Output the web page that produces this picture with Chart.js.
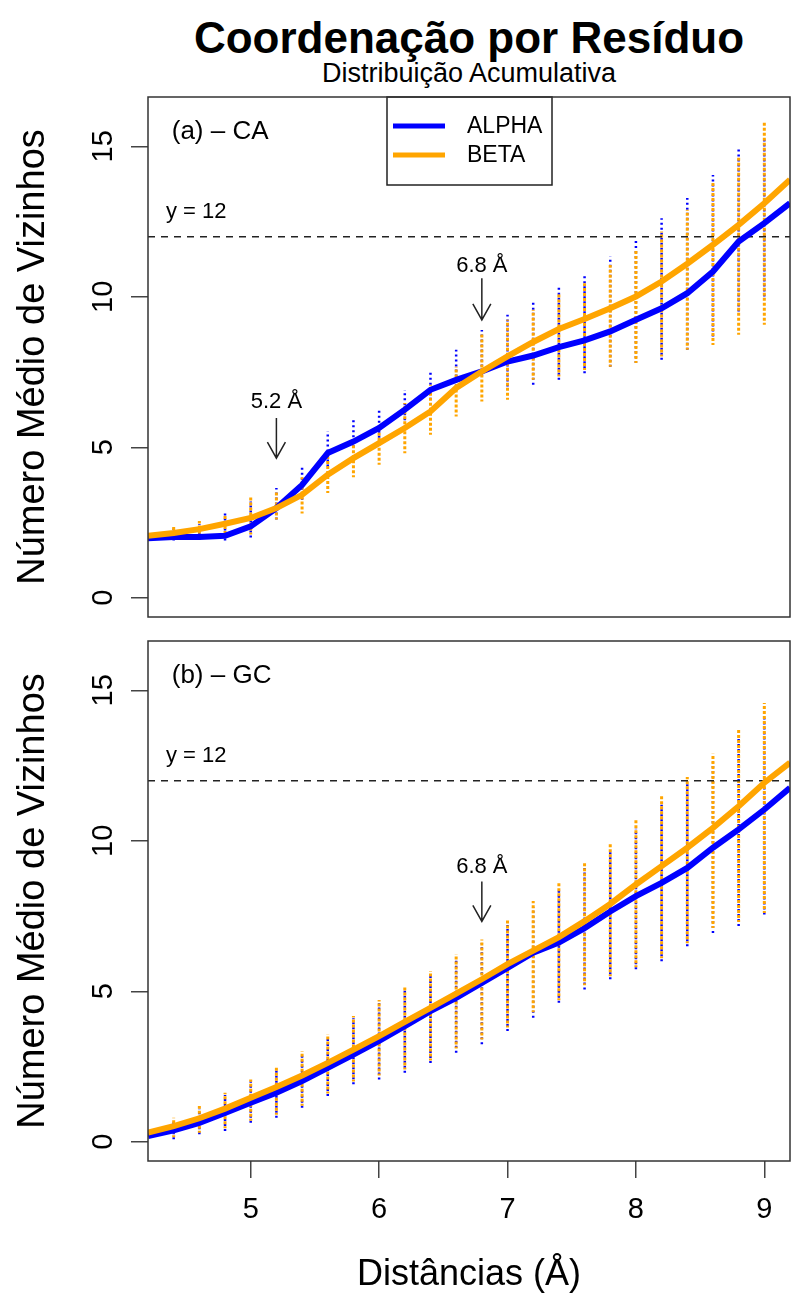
<!DOCTYPE html>
<html>
<head>
<meta charset="utf-8">
<script src="https://cdn.jsdelivr.net/npm/chart.js@4.4.0/dist/chart.umd.min.js"></script>
<style>
body { margin:0; background:#fff; width:791px; height:1298px; position:relative; overflow:hidden; font-family:"Liberation Sans", Arial, sans-serif; }
#title { position:absolute; left:148px; width:642px; top:16px; text-align:center; font-weight:bold; font-size:44px; line-height:44px; }
#subtitle { position:absolute; left:148px; width:642px; top:60px; text-align:center; font-size:27px; line-height:27px; }
canvas { position:absolute; left:0; }
</style>
</head>
<body>
<div id="title">Coordenação por Resíduo</div>
<div id="subtitle">Distribuição Acumulativa</div>
<canvas id="caChart" width="791" height="560" style="top:80px"></canvas>
<canvas id="gcChart" width="791" height="658" style="top:640px"></canvas>
<script>
// distances where the residues were sampled
var distances = [4.4, 4.6, 4.8, 5.0, 5.2, 5.4, 5.6, 5.8, 6.0, 6.2, 6.4, 6.6, 6.8, 7.0, 7.2, 7.4, 7.6, 7.8, 8.0, 8.2, 8.4, 8.6, 8.8, 9.0];
// mean curves run edge to edge
var lineDistances = [4.2, 4.4, 4.6, 4.8, 5.0, 5.2, 5.4, 5.6, 5.8, 6.0, 6.2, 6.4, 6.6, 6.8, 7.0, 7.2, 7.4, 7.6, 7.8, 8.0, 8.2, 8.4, 8.6, 8.8, 9.0, 9.2];

// (a) CA
var caAlphaMean = [1.98, 2.02, 2.02, 2.06, 2.37, 2.98, 3.75, 4.81, 5.19, 5.64, 6.25, 6.91, 7.24, 7.52, 7.85, 8.05, 8.33, 8.55, 8.85, 9.24, 9.62, 10.12, 10.84, 11.84, 12.45, 13.11];
var caBetaMean  = [2.06, 2.15, 2.28, 2.46, 2.65, 2.98, 3.42, 4.09, 4.64, 5.14, 5.64, 6.19, 6.97, 7.52, 8.02, 8.50, 8.93, 9.26, 9.62, 10.01, 10.51, 11.10, 11.73, 12.39, 13.11, 13.89];
var caAlphaMin = [1.90, 1.93, 1.90, 2.00, 2.60, 3.26, 4.36, 5.00, 5.15, 5.90, 6.58, 7.02, 7.35, 7.02, 7.08, 7.24, 7.46, 7.68, 7.80, 7.91, 8.24, 8.68, 9.51, 10.01];
var caAlphaMax = [2.30, 2.45, 2.90, 3.20, 3.65, 4.40, 5.53, 5.98, 6.25, 6.90, 7.52, 8.24, 8.90, 9.40, 9.90, 10.34, 10.70, 11.34, 11.89, 12.61, 13.28, 14.05, 14.94, 15.33];
var caBetaMin  = [1.95, 2.00, 2.15, 2.10, 2.60, 2.80, 3.48, 4.00, 4.42, 4.80, 5.42, 6.02, 6.52, 6.58, 7.24, 7.35, 7.57, 7.68, 7.80, 8.02, 8.24, 8.40, 8.74, 9.07];
var caBetaMax  = [2.40, 2.55, 2.75, 3.37, 3.50, 4.00, 4.69, 5.25, 5.69, 6.47, 7.08, 7.68, 8.80, 9.24, 9.57, 10.12, 10.45, 11.06, 11.58, 12.17, 12.89, 13.78, 14.66, 15.79];

// (b) GC
var gcAlphaMean = [0.19, 0.38, 0.63, 0.96, 1.30, 1.63, 2.02, 2.46, 2.90, 3.35, 3.84, 4.34, 4.78, 5.28, 5.78, 6.28, 6.62, 7.10, 7.65, 8.16, 8.60, 9.10, 9.77, 10.38, 11.04, 11.76];
var gcBetaMean  = [0.30, 0.52, 0.78, 1.10, 1.46, 1.82, 2.20, 2.62, 3.06, 3.51, 3.98, 4.45, 4.92, 5.40, 5.90, 6.35, 6.80, 7.33, 7.90, 8.55, 9.16, 9.77, 10.43, 11.15, 11.93, 12.60];
var gcAlphaMin = [0.08, 0.25, 0.36, 0.63, 0.80, 1.13, 1.52, 1.91, 2.07, 2.29, 2.62, 2.96, 3.24, 3.68, 4.12, 4.62, 5.06, 5.40, 5.73, 6.00, 6.50, 6.94, 7.17, 7.55];
var gcAlphaMax = [0.75, 1.10, 1.55, 2.00, 2.45, 2.95, 3.50, 4.10, 4.60, 5.10, 5.60, 6.10, 6.60, 7.20, 7.80, 8.40, 9.10, 9.70, 10.40, 11.20, 11.90, 12.60, 13.40, 14.09];
var gcBetaMin  = [0.15, 0.30, 0.45, 0.70, 0.90, 1.20, 1.60, 2.00, 2.20, 2.40, 2.70, 3.10, 3.40, 3.80, 4.30, 4.70, 5.20, 5.50, 5.80, 6.10, 6.60, 7.10, 7.30, 7.60];
var gcBetaMax  = [0.80, 1.19, 1.63, 2.07, 2.51, 3.01, 3.57, 4.18, 4.71, 5.17, 5.67, 6.23, 6.72, 7.35, 8.00, 8.63, 9.30, 9.93, 10.71, 11.49, 12.12, 12.89, 13.70, 14.58];

var seriesNames = ["ALPHA", "BETA"];
var seriesColors = ["#0000ff", "#ffa500"];
var yTicks = [0, 5, 10, 15];
var xTicks = [5, 6, 7, 8, 9];
var refLevel = 12;

var FONT = '"Liberation Sans", Arial, sans-serif';
Chart.defaults.font.family = FONT;
Chart.defaults.color = "#000";

function toPoints(xs, ys) {
  return xs.map(function (x, i) { return {x: x, y: ys[i]}; });
}

// one vertical strip of dots per distance, separated by gaps
function toStrips(xs, lo, hi) {
  var out = [];
  xs.forEach(function (x, i) {
    out.push({x: x, y: lo[i]});
    out.push({x: x, y: hi[i]});
    out.push({x: x, y: null});
  });
  return out;
}

var panelPlugin = {
  id: "panelPlugin",
  afterDatasetsDraw: function (chart, args, opts) {
    var ctx = chart.ctx, xs = chart.scales.x, ys = chart.scales.y, a = chart.chartArea;
    ctx.save();
    ctx.fillStyle = "#000";
    ctx.strokeStyle = "#222";
    // panel label
    ctx.font = "26px " + FONT;
    ctx.textAlign = "left";
    ctx.textBaseline = "alphabetic";
    ctx.fillText(opts.label, xs.getPixelForValue(4.385), ys.getPixelForValue(15.25));
    ctx.font = "22px " + FONT;
    ctx.fillText("y = " + refLevel, xs.getPixelForValue(4.34), ys.getPixelForValue(12.62));
    // arrows
    opts.arrows.forEach(function (ar) {
      var px = xs.getPixelForValue(ar.x);
      var y0 = ys.getPixelForValue(ar.from), y1 = ys.getPixelForValue(ar.to);
      ctx.font = "22px " + FONT;
      ctx.textAlign = "center";
      ctx.fillText(ar.text, px, ys.getPixelForValue(ar.textAt));
      ctx.lineWidth = 1.5;
      ctx.beginPath();
      ctx.moveTo(px, y0); ctx.lineTo(px, y1);
      ctx.moveTo(px - 9, y1 - 16); ctx.lineTo(px, y1); ctx.lineTo(px + 9, y1 - 16);
      ctx.stroke();
    });
    // legend
    if (opts.legend) {
      var lx = 387, ly = a.top;
      ctx.lineWidth = 1.5;
      ctx.fillStyle = "#fff";
      ctx.fillRect(lx, ly, 165, 88);
      ctx.strokeRect(lx, ly, 165, 88);
      ctx.font = "23px " + FONT;
      ctx.textAlign = "left";
      ctx.textBaseline = "middle";
      seriesNames.forEach(function (n, i) {
        var yy = ly + 29 + i * 29;
        ctx.strokeStyle = seriesColors[i];
        ctx.lineWidth = 5;
        ctx.beginPath(); ctx.moveTo(lx + 6, yy); ctx.lineTo(lx + 58, yy); ctx.stroke();
        ctx.fillStyle = "#000";
        ctx.fillText(n, lx + 80, yy + 1);
      });
    }
    ctx.restore();
  },
  afterDraw: function (chart) {
    var ctx = chart.ctx, a = chart.chartArea, ys = chart.scales.y;
    ctx.save();
    ctx.strokeStyle = "#333";
    ctx.lineWidth = 1.5;
    ctx.strokeRect(a.left, a.top, a.right - a.left, a.bottom - a.top);
    // y tick labels are parallel to the axis
    ctx.fillStyle = "#000";
    ctx.font = "29px " + FONT;
    ctx.textAlign = "center";
    ctx.textBaseline = "alphabetic";
    yTicks.forEach(function (v) {
      ctx.save();
      ctx.translate(112, ys.getPixelForValue(v));
      ctx.rotate(-Math.PI / 2);
      ctx.fillText(String(v), 0, 0);
      ctx.restore();
    });
    ctx.restore();
  }
};

function makePanel(canvasId, alphaMean, betaMean, aMin, aMax, bMin, bMax, notes, showX, padding) {
  var datasets = [
    {label: seriesNames[1], data: toPoints(lineDistances, betaMean), borderColor: seriesColors[1], borderWidth: 6, pointRadius: 0, clip: 0},
    {label: seriesNames[0], data: toPoints(lineDistances, alphaMean), borderColor: seriesColors[0], borderWidth: 6, pointRadius: 0, clip: 0},
    {label: "ref", data: [{x: 4.2, y: refLevel}, {x: 9.2, y: refLevel}], borderColor: "#222", borderWidth: 1.5, borderDash: [7, 6], pointRadius: 0, clip: 0},
    {label: "betaDots", data: toStrips(distances, bMin, bMax), borderColor: seriesColors[1], borderWidth: 3, borderDash: [3, 2], borderDashOffset: 1, pointRadius: 0, spanGaps: false},
    {label: "alphaDots", data: toStrips(distances, aMin, aMax), borderColor: seriesColors[0], borderWidth: 2.5, borderDash: [2, 3], pointRadius: 0, spanGaps: false}
  ];
  return new Chart(document.getElementById(canvasId), {
    type: "line",
    data: {datasets: datasets},
    plugins: [panelPlugin],
    options: {
      responsive: false,
      animation: false,
      devicePixelRatio: 1,
      layout: {padding: padding},
      plugins: {legend: {display: false}, tooltip: {enabled: false}, panelPlugin: notes},
      scales: {
        x: {
          type: "linear", min: 4.2, max: 9.2, display: showX,
          afterBuildTicks: function (s) { s.ticks = xTicks.map(function (v) { return {value: v}; }); },
          afterFit: function (s) { if (showX) s.height = 137; },
          grid: {drawOnChartArea: false, drawTicks: true, tickLength: 17, color: "#444", lineWidth: 1.5},
          border: {display: false},
          ticks: {font: {size: 29}, padding: 15, color: "#000"},
          title: {display: true, text: "Distâncias (Å)", font: {size: 36}, padding: {top: 0, bottom: 1}, color: "#000"}
        },
        y: {
          type: "linear", min: -0.64, max: 16.64,
          afterBuildTicks: function (s) { s.ticks = yTicks.map(function (v) { return {value: v}; }); },
          afterFit: function (s) { s.width = 148; },
          grid: {drawOnChartArea: false, drawTicks: true, tickLength: 17, color: "#444", lineWidth: 1.5},
          border: {display: false},
          ticks: {display: false},
          title: {display: true, text: "Número Médio de Vizinhos", font: {size: 38}, padding: {top: 11, bottom: 0}, color: "#000"}
        }
      }
    }
  });
}

makePanel("caChart", caAlphaMean, caBetaMean, caAlphaMin, caAlphaMax, caBetaMin, caBetaMax,
  {label: "(a) \u2013 CA", legend: true,
   arrows: [{x: 5.2, from: 5.97, to: 4.64, text: "5.2 Å", textAt: 6.3},
            {x: 6.8, from: 10.62, to: 9.23, text: "6.8 Å", textAt: 10.83}]},
  false, {top: 17, right: 1, bottom: 23, left: 0});

makePanel("gcChart", gcAlphaMean, gcBetaMean, gcAlphaMin, gcAlphaMax, gcBetaMin, gcBetaMax,
  {label: "(b) \u2013 GC", legend: false,
   arrows: [{x: 6.8, from: 8.65, to: 7.32, text: "6.8 Å", textAt: 8.94}]},
  true, {top: 1, right: 1, bottom: 0, left: 0});
</script>
</body>
</html>
